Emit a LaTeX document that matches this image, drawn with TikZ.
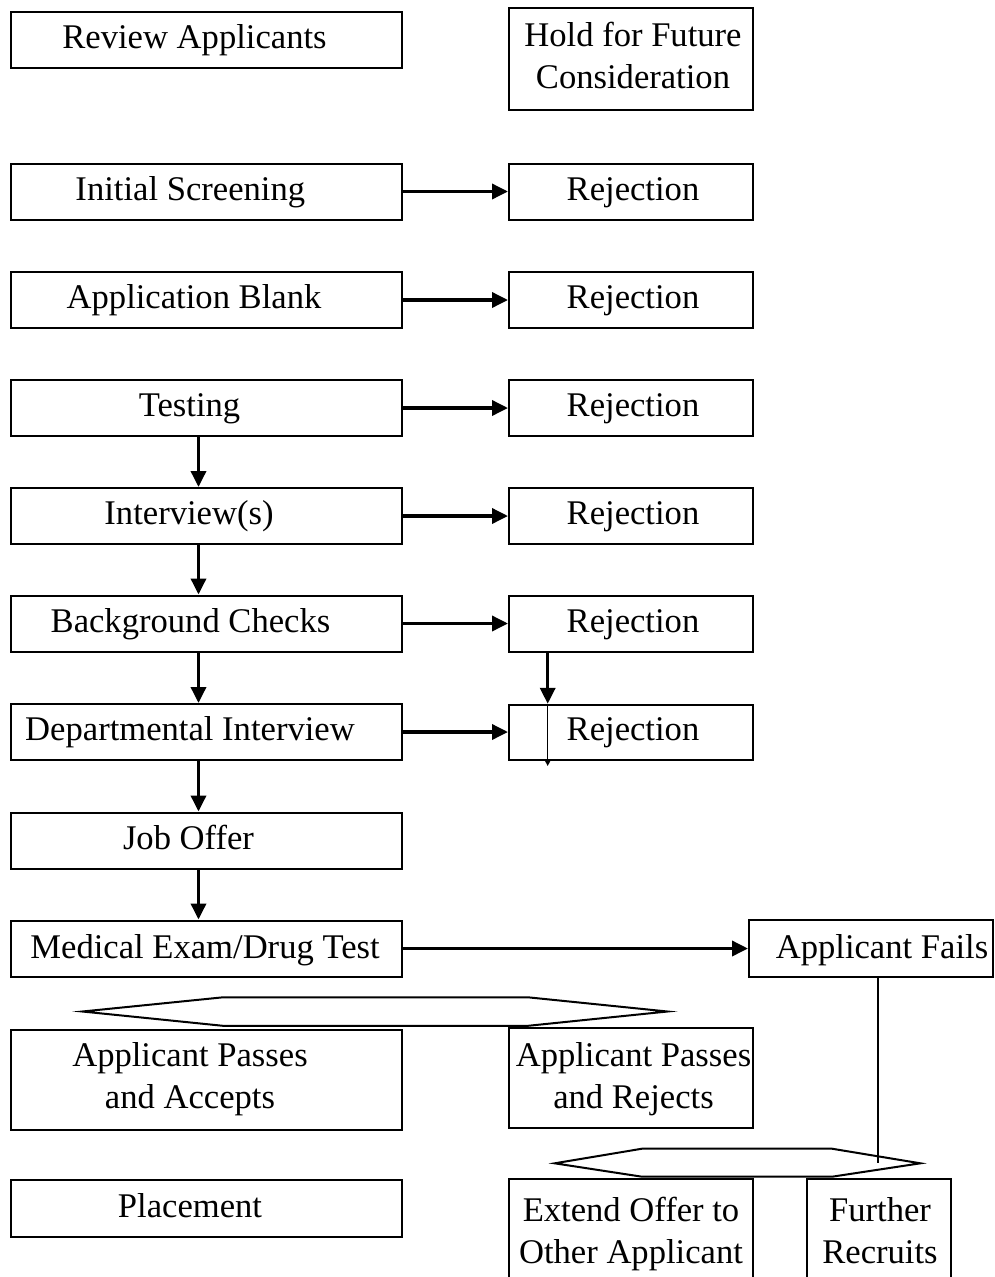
\documentclass[tikz,border=0pt]{standalone}
\usepackage{fontspec}
\setmainfont{Liberation Serif}
\usetikzlibrary{arrows.meta}
\newcommand\lblfont{\fontsize{34.6}{41.6}\selectfont}
\tikzset{
  box/.style={draw, line width=2pt, rectangle, inner sep=0pt},
  lbl/.style={font=\lblfont, anchor=base, inner sep=0pt, align=center},
  arr/.style={line width=3.5pt, -{Triangle[length=16pt,width=15pt]}},
  thinarr/.style={line width=1.4pt, -{Triangle[length=6pt,width=6pt]}},
  thinline/.style={line width=2pt},
  hexa/.style={draw, line width=2pt, line join=miter},
}
\begin{document}
\begin{tikzpicture}[x=1pt,y=-1pt]
\clip (0,0) rectangle (994,1277);
\fill[white] (0,0) rectangle (994,1277);
% left column boxes
\node[box, minimum width=391pt, minimum height=56.3pt] (rev) at (206.5,39.85) {};
\node[box, minimum width=391pt, minimum height=56pt] (ini) at (206.5,191.5) {};
\node[box, minimum width=391pt, minimum height=56pt] (app) at (206.5,300) {};
\node[box, minimum width=391pt, minimum height=56pt] (tes) at (206.5,408) {};
\node[box, minimum width=391pt, minimum height=56pt] (int) at (206.5,516) {};
\node[box, minimum width=391pt, minimum height=56pt] (bac) at (206.5,623.5) {};
\node[box, minimum width=391pt, minimum height=56pt] (dep) at (206.5,732) {};
\node[box, minimum width=391pt, minimum height=56pt] (job) at (206.5,840.5) {};
\node[box, minimum width=391pt, minimum height=56pt] (med) at (206.5,948.5) {};
\node[box, minimum width=391pt, minimum height=100pt] (acc) at (206.5,1080) {};
\node[box, minimum width=391pt, minimum height=56.7pt] (pla) at (206.5,1208.3) {};
% right column boxes
\node[box, minimum width=243.5pt, minimum height=102.5pt] (hold) at (630.75,58.75) {};
\node[box, minimum width=243.5pt, minimum height=56pt] (rj1) at (630.75,191.5) {};
\node[box, minimum width=243.5pt, minimum height=56pt] (rj2) at (630.75,300) {};
\node[box, minimum width=243.5pt, minimum height=56pt] (rj3) at (630.75,408) {};
\node[box, minimum width=243.5pt, minimum height=56pt] (rj4) at (630.75,516) {};
\node[box, minimum width=243.5pt, minimum height=56pt] (rj5) at (630.75,623.5) {};
\node[box, minimum width=243.5pt, minimum height=55pt] (rj6) at (630.75,732) {};
\node[box, minimum width=243.5pt, minimum height=100.6pt] (rej) at (630.75,1078) {};
\node[box, minimum width=243.7pt, minimum height=57pt] (fail) at (870.85,948.5) {};
\node[box, minimum width=243.5pt, minimum height=130pt] (ext) at (630.75,1244.3) {};
\node[box, minimum width=144pt, minimum height=130pt] (fur) at (879,1244.3) {};
% labels (base anchor = baseline of last line)
\node[lbl] (rev-t) at (194.5,48.3) {Review Applicants};
\node[lbl] (ini-t) at (190.3,200) {Initial Screening};
\node[lbl] (app-t) at (194,308.5) {Application Blank};
\node[lbl] (tes-t) at (189.5,416.5) {Testing};
\node[lbl] (int-t) at (189,524.5) {Interview(s)};
\node[lbl] (bac-t) at (190.5,632.5) {Background Checks};
\node[lbl] (dep-t) at (190,740.5) {Departmental Interview};
\node[lbl] (job-t) at (188.5,849) {Job Offer};
\node[lbl] (med-t) at (205,958) {Medical Exam/Drug Test};
\node[lbl] (acc-t) at (190,1108) {Applicant Passes\\and Accepts};
\node[lbl] (pla-t) at (190,1217.5) {Placement};
\node[lbl] (hold-t) at (633,88.3) {Hold for Future\\Consideration};
\node[lbl] (rj1-t) at (633,200) {Rejection};
\node[lbl] (rj2-t) at (633,308.5) {Rejection};
\node[lbl] (rj3-t) at (633,416.5) {Rejection};
\node[lbl] (rj4-t) at (633,524.5) {Rejection};
\node[lbl] (rj5-t) at (633,632) {Rejection};
\node[lbl] (rj6-t) at (633,740.5) {Rejection};
\node[lbl] (rej-t) at (633.5,1108) {Applicant Passes\\and Rejects};
\node[lbl] (fail-t) at (882,958) {Applicant Fails};
\node[lbl] (ext-t) at (631,1263.3) {Extend Offer to\\Other Applicant};
\node[lbl] (fur-t) at (880,1263.3) {Further\\Recruits};
% horizontal arrows
\draw[arr] (ini.east) -- (rj1.west);
\draw[arr] (app.east) -- (rj2.west);
\draw[arr] (tes.east) -- (rj3.west);
\draw[arr] (int.east) -- (rj4.west);
\draw[arr] (bac.east) -- (rj5.west);
\draw[arr] (dep.east) -- (rj6.west);
\draw[arr] (med.east) -- (fail.west);
% vertical arrows
\coordinate (vx) at (198.5,0);
\draw[arr] (tes.south -| vx) -- (int.north -| vx);
\draw[arr] (int.south -| vx) -- (bac.north -| vx);
\draw[arr] (bac.south -| vx) -- (dep.north -| vx);
\draw[arr] (dep.south -| vx) -- (job.north -| vx);
\draw[arr] (job.south -| vx) -- (med.north -| vx);
% odd arrow from rejection to rejection
\coordinate (k1) at (547.7,703.8);
\coordinate (k2) at (547.7,766);
\draw[arr] (rj5.south -| k1) -- (k1);
\draw[thinarr] (k1) -- (k2);
% hexagons
\draw[hexa] (82.4,1011.5) -- (223,997.3) -- (528,997.3) -- (667.5,1011.5) -- (528,1025.8) -- (223,1025.8) -- cycle;
\draw[hexa] (554.7,1163.3) -- (642,1148.7) -- (832,1148.7) -- (920.4,1163.3) -- (832,1176.7) -- (642,1176.7) -- cycle;
% line from Applicant Fails
\coordinate (h2) at (878,1163.3);
\draw[thinline] (fail.south -| h2) -- (h2);
\end{tikzpicture}
\end{document}
